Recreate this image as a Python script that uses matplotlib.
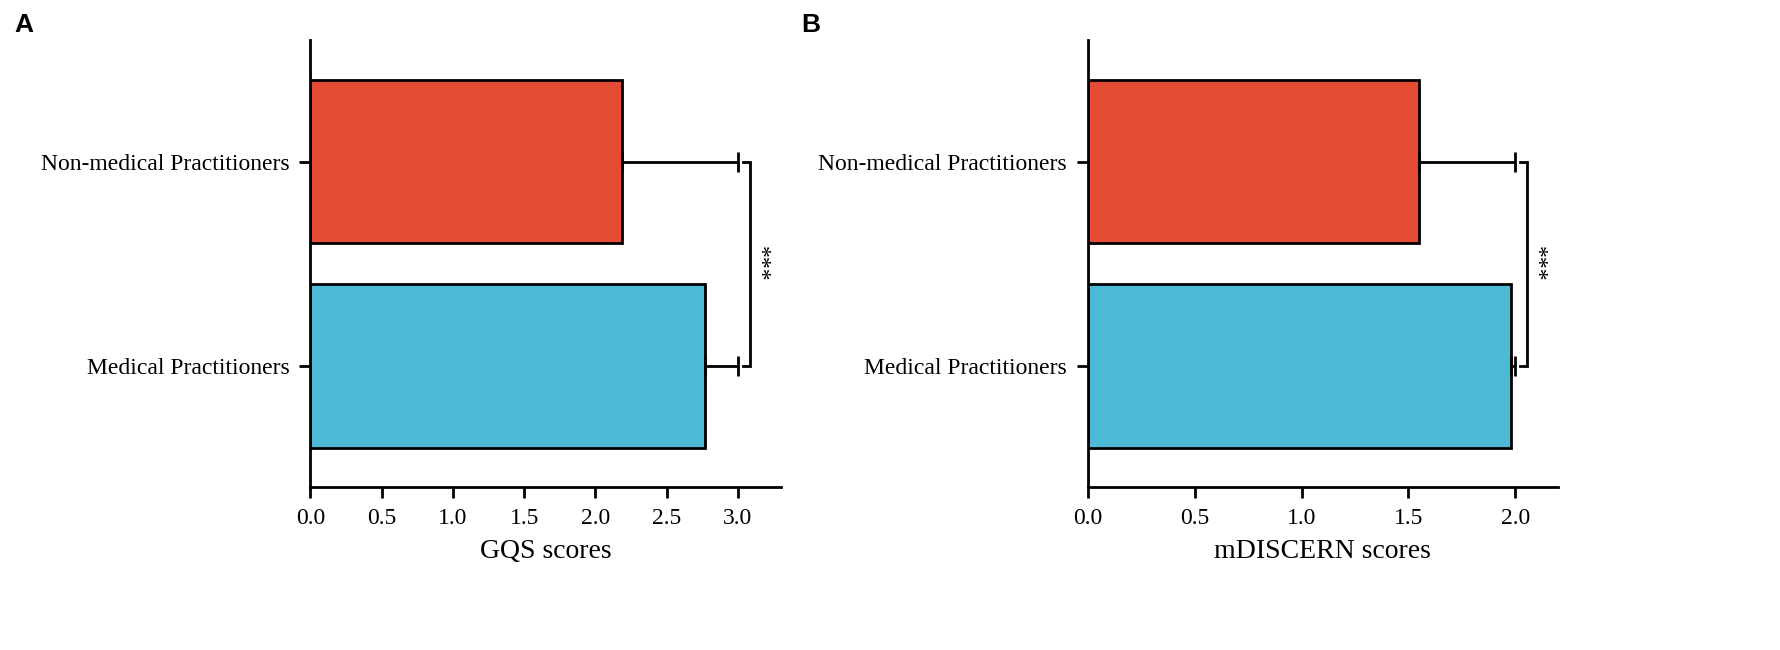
import matplotlib
matplotlib.use("Agg")
import matplotlib.pyplot as plt

categories = ["Medical Practitioners", "Non-medical Practitioners"]
gqs_means = [2.77, 2.19]
gqs_err = [0.23, 0.81]
mdiscern_means = [1.98, 1.55]
mdiscern_err = [0.02, 0.45]
colors = ["#4DBBD5", "#E64B35"]
xticks_a = [0.0, 0.5, 1.0, 1.5, 2.0, 2.5, 3.0]
xticks_b = [0.0, 0.5, 1.0, 1.5, 2.0]

plt.rcParams["font.family"] = ["Liberation Serif", "DejaVu Serif"]

fig = plt.figure(figsize=(17.8, 6.5), dpi=100)
ax_a = fig.add_axes([0.1744, 0.2508, 0.2641, 0.6883])
ax_b = fig.add_axes([0.6112, 0.2508, 0.2640, 0.6883])

LW = 2.0


def panel(ax, means, errs, xlim, xticks, xlabel, bracket, star_x, letter, letter_x):
    ypos = list(range(len(categories)))
    ax.barh(ypos, means, height=0.8, color=colors, edgecolor="black",
            linewidth=LW, zorder=2)
    ax.errorbar(means, ypos, xerr=[[0] * len(errs), errs], fmt="none",
                ecolor="black", elinewidth=LW, capsize=7, capthick=LW, zorder=3)
    ax.set_xlim(*xlim)
    ax.set_ylim(-0.593, 1.597)
    ax.set_xticks(xticks)
    ax.set_xticklabels([f"{t:.1f}" for t in xticks])
    ax.set_yticks(ypos)
    ax.set_yticklabels(categories)
    ax.spines["top"].set_visible(False)
    ax.spines["right"].set_visible(False)
    for s in ("left", "bottom"):
        ax.spines[s].set_linewidth(LW)
    ax.tick_params(axis="both", width=LW, length=8, labelsize=17, pad=7)
    ax.set_xlabel(xlabel, fontsize=20, labelpad=7)
    x0, x1 = bracket
    ax.plot([x0, x1, x1, x0], [1, 1, 0, 0], color="black", lw=LW,
            clip_on=False, solid_joinstyle="miter")
    ax.text(star_x, 0.5, "***", rotation=270, ha="center", va="center",
            fontsize=17)
    fig.text(letter_x, 0.962, letter, fontsize=19, fontweight="bold",
             family=["Liberation Sans", "DejaVu Sans"], ha="left", va="center")


panel(ax_a, gqs_means, gqs_err, (0, 3.30), xticks_a, "GQS scores",
      (3.035, 3.087), 3.15, "A", 0.008)
panel(ax_b, mdiscern_means, mdiscern_err, (0, 2.20), xticks_b, "mDISCERN scores",
      (2.022, 2.055), 2.10, "B", 0.45)

fig.savefig("out.png", dpi=100, facecolor="white")
